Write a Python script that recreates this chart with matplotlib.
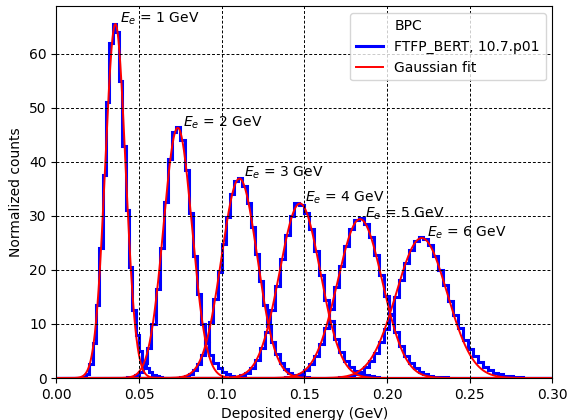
"""
Deposited energy spectra in the BPC for 1-6 GeV electrons, with Gaussian fits
"""

import numpy as np
import matplotlib
matplotlib.use('Agg')
import matplotlib.pyplot as plt

# beam energies (GeV)
energies = [1, 2, 3, 4, 5, 6]

# histogram binning per energy: first bin low edge and bin width (GeV)
bin_start = [0.016, 0.0425, 0.075, 0.105, 0.138, 0.168]
bin_width = [0.002, 0.0025, 0.0025, 0.003, 0.003, 0.003]

# normalized counts
counts_1gev = [0.2, 0.8, 2.5, 6.5, 13.5, 24.0, 37.5, 51.0, 62.0, 65.5, 64.0, 55.0,
               43.0, 31.0, 20.5, 12.5, 8.0, 5.0, 3.0, 1.8, 1.1, 0.6, 0.3, 0.15]
counts_2gev = [0.1, 0.2, 0.5, 1.2, 2.8, 5.5, 10.0, 16.5, 24.0, 32.5, 40.5, 45.5,
               46.5, 44.0, 38.5, 30.5, 22.5, 15.5, 10.0, 6.5, 4.2, 2.8, 1.8, 1.1,
               0.7, 0.4, 0.2]
counts_3gev = [0.1, 0.3, 0.7, 1.4, 2.5, 4.3, 6.8, 10.3, 14.6, 19.6, 24.8, 29.8,
               34.0, 36.5, 37.0, 35.5, 32.3, 28.0, 23.0, 18.0, 13.5, 9.7, 6.6, 4.4,
               2.8, 1.7, 1.0, 0.6, 0.35, 0.2, 0.1]
counts_4gev = [0.1, 0.2, 0.5, 1.0, 1.9, 3.3, 5.5, 8.5, 12.5, 17.0, 22.0, 26.5,
               30.0, 32.3, 32.0, 30.5, 27.5, 23.5, 19.0, 14.5, 10.5, 7.3, 4.9, 3.2,
               2.1, 1.3, 0.8, 0.5, 0.3, 0.15, 0.08]
counts_5gev = [0.1, 0.2, 0.4, 0.8, 1.5, 2.5, 4.0, 6.2, 9.2, 12.8, 16.8, 20.8,
               24.5, 27.5, 29.3, 29.6, 28.5, 26.0, 22.8, 19.0, 15.2, 11.6, 8.5, 6.0,
               4.1, 2.8, 1.8, 1.1, 0.7, 0.45, 0.25, 0.15, 0.1, 0.05]
counts_6gev = [0.05, 0.1, 0.2, 0.4, 0.7, 1.2, 2.0, 3.1, 4.6, 6.6, 9.0, 11.9,
               15.0, 18.2, 21.2, 23.6, 25.3, 26.0, 25.8, 24.6, 22.6, 20.0, 17.2, 14.3,
               11.6, 9.2, 7.1, 5.4, 4.0, 2.9, 2.1, 1.5, 1.0, 0.7, 0.45, 0.3, 0.2, 0.1]
all_counts = [counts_1gev, counts_2gev, counts_3gev, counts_4gev, counts_5gev, counts_6gev]

# Gaussian fit results: mean (GeV), sigma (GeV), amplitude
fit_mean = [0.0357, 0.0734, 0.1107, 0.1473, 0.1836, 0.2209]
fit_sigma = [0.0061, 0.0086, 0.0108, 0.01235, 0.01357, 0.0154]
fit_amp = [65.5, 46.3, 36.9, 32.3, 29.4, 25.9]

x_range = (0.0, 0.30)

fig = plt.figure(figsize=(5.69, 4.2), dpi=100)
ax = fig.add_subplot(111)
fig.subplots_adjust(left=0.099, right=0.971, bottom=0.1, top=0.985)

x_fit = np.linspace(x_range[0], x_range[1], 2000)

for i, e in enumerate(energies):
    vals = np.array(all_counts[i])
    edges = bin_start[i] + bin_width[i] * np.arange(len(vals) + 1)
    # pad with empty bins so the histogram spans the full x range
    edges = np.concatenate([[x_range[0]], edges, [x_range[1]]])
    vals = np.concatenate([[0.0], vals, [0.0]])
    ax.stairs(vals, edges, color='blue', linewidth=2.2,
              label='FTFP_BERT, 10.7.p01' if i == 0 else None)

    gauss = fit_amp[i] * np.exp(-(x_fit - fit_mean[i]) ** 2 / (2 * fit_sigma[i] ** 2))
    ax.plot(x_fit, gauss, color='red', linewidth=1.4,
            label='Gaussian fit' if i == 0 else None)

    ax.text(fit_mean[i] + 0.003, fit_amp[i] + 0.3, r'$E_e$ = %d GeV' % e, fontsize=10)

# empty entry for the detector name in the legend
ax.plot([], [], ' ', label='BPC')

handles, labels = ax.get_legend_handles_labels()
order = [labels.index('BPC'), labels.index('FTFP_BERT, 10.7.p01'), labels.index('Gaussian fit')]
ax.legend([handles[k] for k in order], [labels[k] for k in order], loc='upper right')

ax.set_xlim(*x_range)
ax.set_ylim(bottom=0)
ax.set_xlabel('Deposited energy (GeV)')
ax.set_ylabel('Normalized counts')
ax.set_axisbelow(False)
ax.grid(True, linestyle=(0, (3, 2)), color='k', linewidth=0.7)

fig.savefig('out.png', dpi=100)
